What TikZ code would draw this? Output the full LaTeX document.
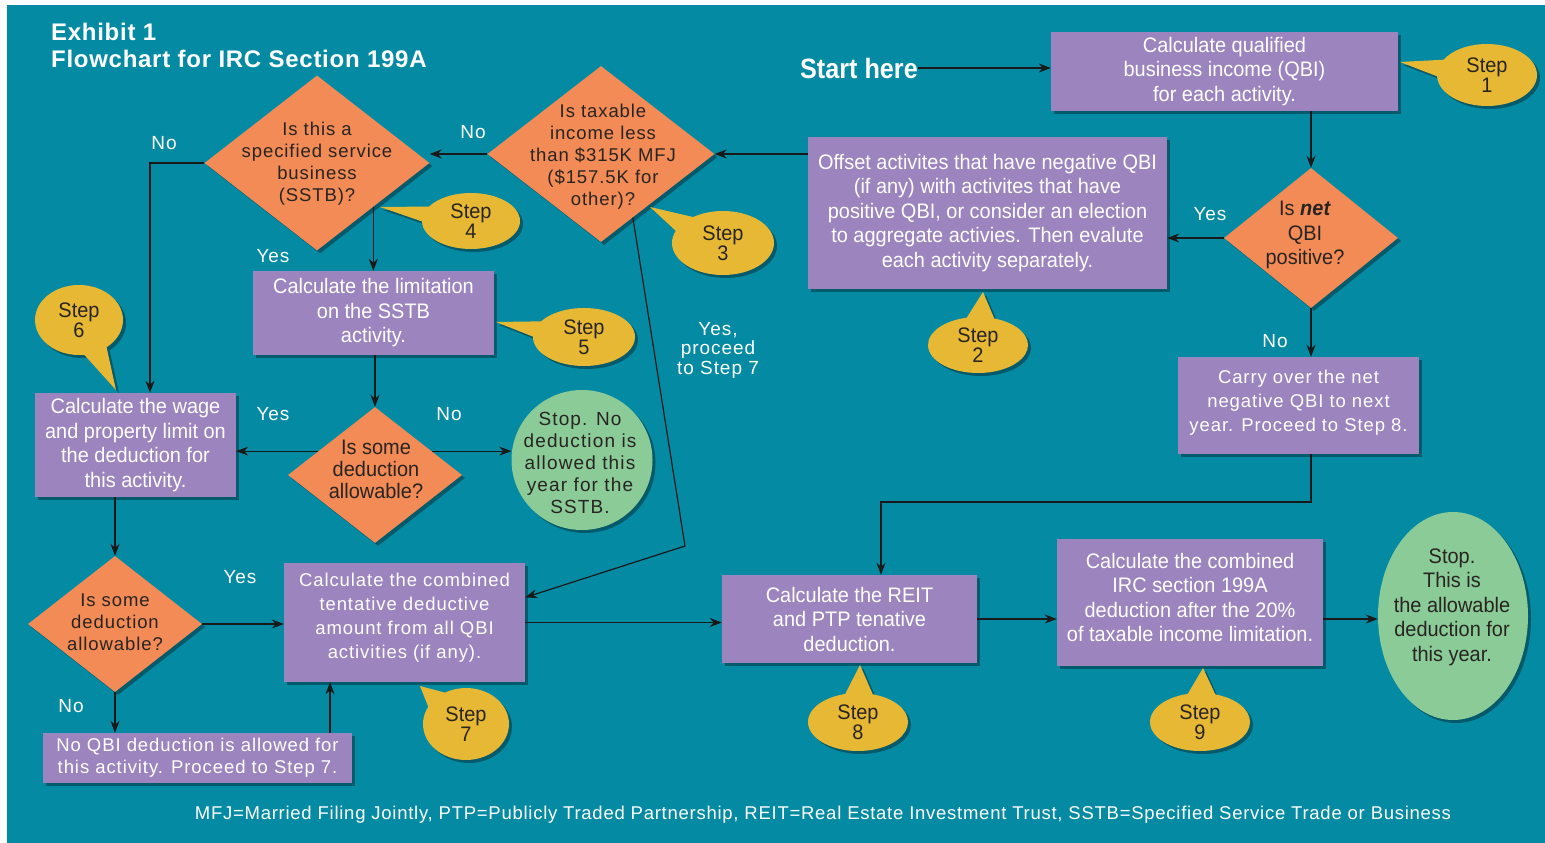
\documentclass[tikz,border=0pt]{standalone}
\usepackage{fontspec}
\setmainfont{Liberation Sans}
\newfontfamily\condf[FakeStretch=0.95]{Liberation Sans}
\newfontfamily\spacedf[LetterSpace=5]{Liberation Sans}
\newfontfamily\titlef[LetterSpace=3]{Liberation Sans}
\newfontfamily\footf[LetterSpace=4]{Liberation Sans}
\newfontfamily\startf[FakeStretch=0.9]{Liberation Sans}
\usetikzlibrary{shapes.geometric,shapes.callouts,shadows,arrows.meta,calc}
\definecolor{bgteal}{RGB}{4,139,163}
\definecolor{boxpurple}{RGB}{156,132,190}
\definecolor{diaorange}{RGB}{242,139,85}
\definecolor{stepyellow}{RGB}{231,184,52}
\definecolor{stopgreen}{RGB}{138,203,151}
\definecolor{darktext}{RGB}{40,36,34}
\definecolor{linecol}{RGB}{25,25,25}
\begin{document}
\begin{tikzpicture}[x=1pt,y=-1pt,
  shade/.style={drop shadow={shadow xshift=3pt,shadow yshift=-3pt,opacity=0.35,fill=black}},
  pbox/.style={rectangle,fill=boxpurple,text=white,align=center,inner sep=0pt,shade},
  cbox/.style={pbox,font=\condf\fontsize{21}{24.5}\selectfont},
  rbox/.style={pbox,font=\spacedf\fontsize{18.5}{24}\selectfont},
  dia/.style={diamond,fill=diaorange,inner sep=0pt,shade},
  diatext/.style={align=center,text=darktext,inner sep=0pt,font=\spacedf\fontsize{18.5}{22}\selectfont},
  stopoval/.style={ellipse,fill=stopgreen,inner sep=0pt,shade},
  stoptext/.style={align=center,text=darktext,inner sep=0pt},
  stepcall/.style={ellipse callout,fill=stepyellow,inner sep=0pt,align=center,text=darktext,
     callout pointer arc=32,shade,font=\condf\fontsize{21}{20}\selectfont},
  lbl/.style={text=white,inner sep=0pt,font=\spacedf\fontsize{19}{20}\selectfont,align=center},
  arr/.style={draw=linecol,line width=1.2pt,-{Stealth[length=12pt,width=9pt]}}]
\useasboundingbox (0,0) rectangle (1545,843);
\fill[white] (0,0) rectangle (1545,843);
\fill[bgteal] (7,5) rectangle (1545,843);

% title
\node[anchor=base west,text=white,inner sep=0pt,font=\titlef\bfseries\fontsize{24}{26}\selectfont] (t1) at (51,41) {Exhibit 1};
\node[anchor=base west,text=white,inner sep=0pt,font=\titlef\bfseries\fontsize{24}{26}\selectfont] (t2) at (51,67) {Flowchart for IRC Section 199A};

\node[text=white,inner sep=0pt,font=\startf\bfseries\fontsize{28}{28}\selectfont] (start) at (859,68) {Start here};

% boxes
\node[cbox,minimum width=347,minimum height=79] (b1) at (1224.5,71.5) {Calculate qualified\\business income (QBI)\\for each activity.};
\node[cbox,minimum width=359,minimum height=152] (b2) at (987.5,213) {Offset activites that have negative QBI\\(if any) with activites that have\\positive QBI, or consider an election\\to aggregate activies. Then evalute\\each activity separately.};
\node[cbox,minimum width=241,minimum height=84] (b5) at (373.5,313) {Calculate the limitation\\on the SSTB\\activity.};
\node[cbox,minimum width=201,minimum height=104] (b6) at (135.5,445) {Calculate the wage\\and property limit on\\the deduction for\\this activity.};
\node[rbox,minimum width=241,minimum height=119,text depth=14pt] (b7) at (404.5,622.5) {Calculate the combined\\tentative deductive\\amount from all QBI\\activities (if any).};
\node[rbox,minimum width=309,minimum height=50,font=\spacedf\fontsize{18.5}{22}\selectfont] (nq) at (197.5,758) {No QBI deduction is allowed for\\this activity. Proceed to Step 7.};
\node[rbox,minimum width=241,minimum height=97,text depth=10pt] (carry) at (1298.5,405.5) {Carry over the net\\negative QBI to next\\year. Proceed to Step 8.};
\node[cbox,minimum width=255,minimum height=88] (b8) at (849.5,619) {Calculate the REIT\\and PTP tenative\\deduction.};
\node[cbox,minimum width=266,minimum height=127,text depth=10pt] (b9) at (1190,602.5) {Calculate the combined\\IRC section 199A\\deduction after the 20\%\\of taxable income limitation.};

% diamonds
\node[dia,minimum width=174,minimum height=140] (dq) at (1311,238) {};
\node[diatext,font=\condf\fontsize{21}{24.5}\selectfont] (dqt) at (1305,235) {Is \textbf{\textit{net}}\\QBI\\positive?};
\node[dia,minimum width=227,minimum height=176] (d3) at (601,154) {};
\node[diatext] (d3t) at (603,157) {Is taxable\\income less\\than \$315K MFJ\\(\$157.5K for\\other)?};
\node[dia,minimum width=225,minimum height=175] (d4) at (317,163) {};
\node[diatext] (d4t) at (317,164) {Is this a\\specified service\\business\\(SSTB)?};
\node[dia,minimum width=174,minimum height=136] (d5) at (375,475) {};
\node[diatext,font=\condf\fontsize{21}{22}\selectfont] (d5t) at (376,469) {Is some\\deduction\\allowable?};
\node[dia,minimum width=174,minimum height=136] (d7) at (115,624) {};
\node[diatext] (d7t) at (115,622) {Is some\\deduction\\allowable?};

% stop ovals
\node[stopoval,minimum width=141,minimum height=140] (s1) at (582,460) {};
\node[stoptext,font=\spacedf\addfontfeature{LetterSpace=6}\fontsize{19}{22}\selectfont] (s1t) at (580,463) {Stop. No\\deduction is\\allowed this\\year for the\\SSTB.};
\node[stopoval,minimum width=150,minimum height=208] (s2) at (1453,616) {};
\node[stoptext,font=\condf\fontsize{21}{24.5}\selectfont] (s2t) at (1452,607) {Stop.\\This is\\the allowable\\deduction for\\this year.};

% step callouts
\node[stepcall,minimum width=100,minimum height=62,callout absolute pointer={(1400,62)}] (st1) at (1487,75) {Step\\1};
\node[stepcall,minimum width=100,minimum height=56,callout absolute pointer={(983,292)}] (st2) at (978,345) {Step\\2};
\node[stepcall,minimum width=102,minimum height=64,callout absolute pointer={(650,207)}] (st3) at (723,243) {Step\\3};
\node[stepcall,minimum width=98,minimum height=56,callout absolute pointer={(380,207)}] (st4) at (471,221) {Step\\4};
\node[stepcall,minimum width=102,minimum height=58,callout absolute pointer={(496,322)}] (st5) at (584,337) {Step\\5};
\node[stepcall,minimum width=88,minimum height=70,callout absolute pointer={(116,390)}] (st6) at (79,320) {Step\\6};
\node[stepcall,minimum width=86,minimum height=72,callout absolute pointer={(420,686)}] (st7) at (466,724) {Step\\7};
\node[stepcall,minimum width=100,minimum height=58,callout absolute pointer={(860,665)}] (st8) at (858,722) {Step\\8};
\node[stepcall,minimum width=100,minimum height=58,callout absolute pointer={(1203,668)}] (st9) at (1200,722) {Step\\9};

% labels
\node[lbl] (l1) at (1210,214) {Yes};
\node[lbl] (l2) at (473,132) {No};
\node[lbl] (l3) at (164,143) {No};
\node[lbl] (l4) at (273,256) {Yes};
\node[lbl] (l5) at (273,414) {Yes};
\node[lbl] (l6) at (449,414) {No};
\node[lbl] (l7) at (240,577) {Yes};
\node[lbl] (l8) at (71,706) {No};
\node[lbl] (l9) at (1275,341) {No};
\node[lbl,font=\spacedf\fontsize{19}{19.5}\selectfont] (l10) at (718,350) {Yes,\\proceed\\to Step 7};

% footer
\node[text=white,inner sep=0pt,font=\footf\fontsize{18.5}{20}\selectfont] (foot) at (823,815) {MFJ=Married Filing Jointly, PTP=Publicly Traded Partnership, REIT=Real Estate Investment Trust, SSTB=Specified Service Trade or Business};

% connectors
\draw[arr] (start.east) -- (start.east -| b1.west);
\draw[arr] (b1.south -| dq.north) -- (dq.north);
\draw[arr] (dq.west) -- (dq.west -| b2.east);
\draw[arr] (b2.west |- d3.east) -- (d3.east);
\draw[arr] (d3.west) -- (d3.west -| d4.east);
\draw[arr] (d4.west) -| ([xshift=14.5pt]b6.north);
\draw[arr] (d4.south east) -- (d4.south east |- b5.north);
\draw[arr] (b5.south -| d5.north) -- (d5.north);
\coordinate (d5l) at ($(d5.west)!0.35!(d5.north)$);
\coordinate (d5r) at ($(d5.east)!0.35!(d5.north)$);
\draw[arr] (d5l) -- (d5l -| b6.east);
\draw[arr] (d5r) -- (d5r -| s1.west);
\draw[arr] (b6.south -| d7.north) -- (d7.north);
\draw[arr] (d7.east) -- (d7.east -| b7.west);
\draw[arr] (d7.south) -- (d7.south |- nq.north);
\draw[arr] ([xshift=132.5pt]nq.north) -- ([xshift=132.5pt]nq.north |- b7.south);
\coordinate (d3s) at ($(d3.south)!0.28!(d3.east)$);
\coordinate (bend3) at (685,546);
\coordinate (b7in) at ($(b7.north east)!0.29!(b7.south east)$);
\draw[arr] (d3s) -- (bend3) -- (b7in);
\draw[arr] (b7.east) -- (b7.east -| b8.west);
\draw[arr] (dq.south) -- (dq.south |- carry.north);
\coordinate (j1) at (1311,502);
\draw[arr] (carry.south -| j1) -- (j1) -| ([xshift=31.5pt]b8.north);
\draw[arr] (b8.east) -- (b8.east -| b9.west);
\draw[arr] (b8.east -| b9.east) -- (b8.east -| s2.west);
\end{tikzpicture}
\end{document}
